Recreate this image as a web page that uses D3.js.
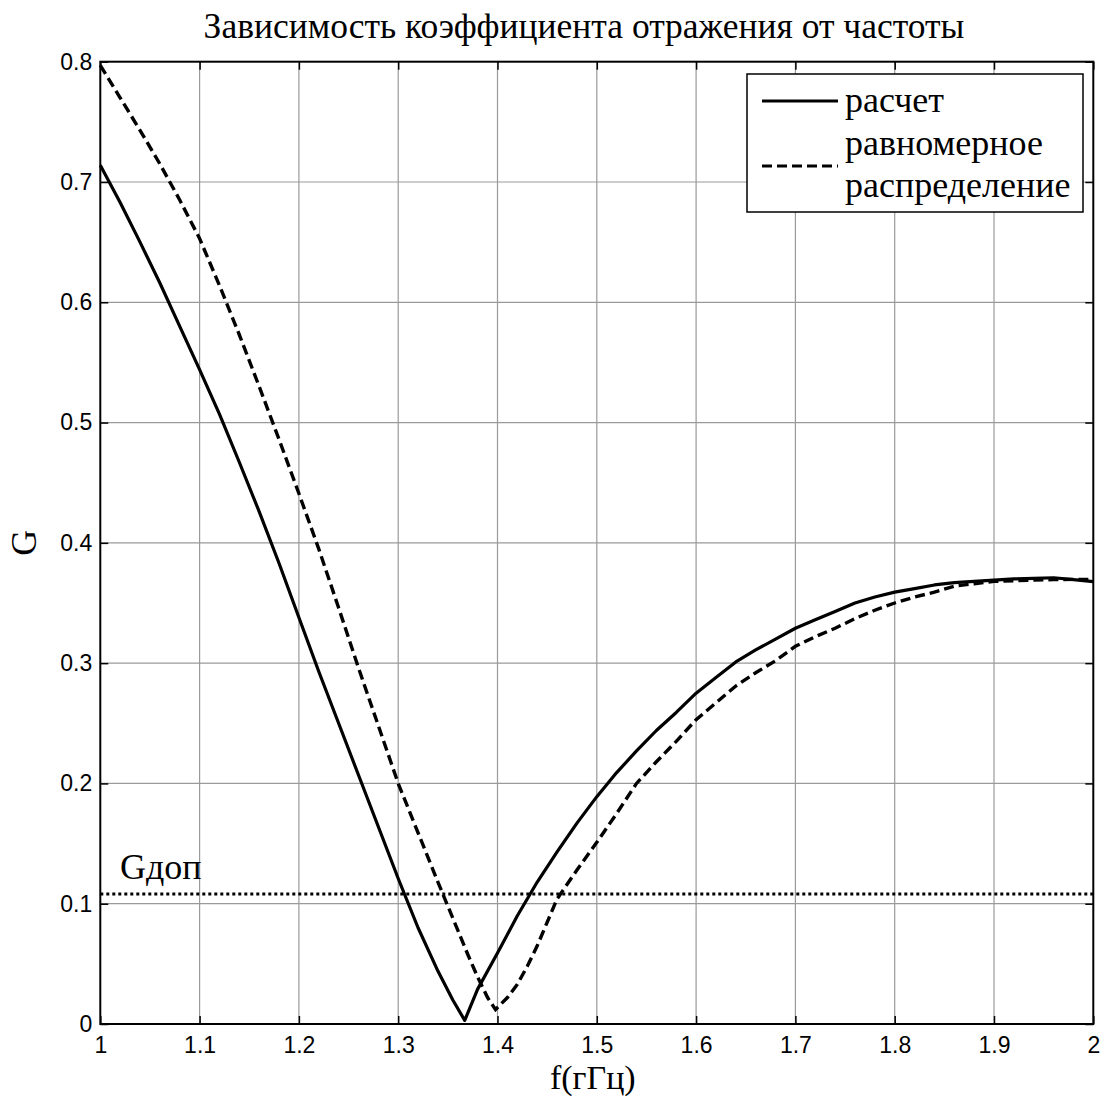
<!DOCTYPE html>
<html>
<head>
<meta charset="utf-8">
<script src="https://cdn.jsdelivr.net/npm/d3@7"></script>
<style>
  html, body { margin: 0; padding: 0; background: #fff; }
  svg { display: block; }
</style>
</head>
<body>
<svg id="chart" width="1105" height="1100"></svg>
<script>
// Reflection coefficient G versus frequency f (GHz)
const calcF = [1.00, 1.02, 1.04, 1.06, 1.08, 1.10, 1.12, 1.14, 1.16, 1.18, 1.20, 1.22, 1.24, 1.26, 1.28, 1.30, 1.32, 1.34, 1.355, 1.367, 1.38, 1.40, 1.42, 1.44, 1.46, 1.48, 1.50, 1.52, 1.54, 1.56, 1.58, 1.60, 1.62, 1.64, 1.66, 1.68, 1.70, 1.72, 1.74, 1.76, 1.78, 1.80, 1.82, 1.84, 1.86, 1.88, 1.90, 1.92, 1.94, 1.96, 1.98, 2.00];
const calcG = [0.714, 0.683, 0.650, 0.616, 0.580, 0.544, 0.507, 0.467, 0.426, 0.383, 0.338, 0.293, 0.250, 0.207, 0.164, 0.121, 0.080, 0.044, 0.020, 0.003, 0.029, 0.059, 0.090, 0.118, 0.143, 0.167, 0.189, 0.209, 0.227, 0.244, 0.259, 0.275, 0.288, 0.301, 0.311, 0.320, 0.329, 0.336, 0.343, 0.350, 0.355, 0.359, 0.362, 0.365, 0.367, 0.368, 0.369, 0.370, 0.3705, 0.371, 0.3695, 0.3677];

const uniF = [1.00, 1.02, 1.04, 1.06, 1.08, 1.10, 1.12, 1.14, 1.16, 1.18, 1.20, 1.22, 1.24, 1.26, 1.28, 1.30, 1.32, 1.34, 1.36, 1.37, 1.38, 1.39, 1.398, 1.41, 1.42, 1.43, 1.44, 1.46, 1.48, 1.50, 1.52, 1.54, 1.56, 1.58, 1.60, 1.62, 1.64, 1.66, 1.68, 1.70, 1.72, 1.74, 1.76, 1.78, 1.80, 1.82, 1.84, 1.86, 1.88, 1.90, 1.92, 1.94, 1.96, 1.98, 2.00];
const uniG = [0.797, 0.770, 0.743, 0.715, 0.685, 0.653, 0.614, 0.573, 0.530, 0.486, 0.441, 0.395, 0.346, 0.296, 0.248, 0.200, 0.159, 0.118, 0.078, 0.058, 0.039, 0.022, 0.012, 0.022, 0.033, 0.048, 0.065, 0.104, 0.128, 0.151, 0.175, 0.200, 0.218, 0.235, 0.253, 0.267, 0.281, 0.292, 0.302, 0.314, 0.322, 0.329, 0.337, 0.344, 0.350, 0.355, 0.359, 0.364, 0.366, 0.368, 0.3685, 0.369, 0.3695, 0.3696, 0.3696];

const gAllowed = 0.108;

const xTicks = [1, 1.1, 1.2, 1.3, 1.4, 1.5, 1.6, 1.7, 1.8, 1.9, 2];
const yTicks = [0, 0.1, 0.2, 0.3, 0.4, 0.5, 0.6, 0.7, 0.8];

const titleText = "Зависимость коэффициента отражения от частоты";
const xLabel = "f(гГц)";
const yLabel = "G";
const gLabel = "Gдоп";
const legendItems = [
  { lines: ["расчет"], dash: null },
  { lines: ["равномерное", "распределение"], dash: "10,5" }
];

const plot = { left: 100.3, right: 1093.3, top: 61.7, bottom: 1024 };
const serif = "'Liberation Serif', 'Times New Roman', serif";
const sans = "'Liberation Sans', Arial, sans-serif";

const svg = d3.select("#chart");
const x = d3.scaleLinear().domain([1, 2]).range([plot.left, plot.right]);
const y = d3.scaleLinear().domain([0, 0.8]).range([plot.bottom, plot.top]);

// grid
const grid = svg.append("g").attr("stroke", "#9a9a9a").attr("stroke-width", 1.2);
grid.selectAll("line.gx").data(xTicks.slice(1, -1)).join("line")
  .attr("x1", d => x(d)).attr("x2", d => x(d))
  .attr("y1", plot.top).attr("y2", plot.bottom);
grid.selectAll("line.gy").data(yTicks.slice(1, -1)).join("line")
  .attr("x1", plot.left).attr("x2", plot.right)
  .attr("y1", d => y(d)).attr("y2", d => y(d));

// axes with inward ticks on all four sides
const tickLen = 8;
const axB = svg.append("g").attr("transform", `translate(0,${plot.bottom})`)
  .call(d3.axisBottom(x).tickValues(xTicks).tickSizeInner(-tickLen).tickSizeOuter(0).tickPadding(13).tickFormat(d3.format("")));
const axT = svg.append("g").attr("transform", `translate(0,${plot.top})`)
  .call(d3.axisTop(x).tickValues(xTicks).tickSizeInner(-tickLen).tickSizeOuter(0).tickFormat(""));
const axL = svg.append("g").attr("transform", `translate(${plot.left},0)`)
  .call(d3.axisLeft(y).tickValues(yTicks).tickSizeInner(-tickLen).tickSizeOuter(0).tickPadding(8).tickFormat(d3.format("")));
const axR = svg.append("g").attr("transform", `translate(${plot.right},0)`)
  .call(d3.axisRight(y).tickValues(yTicks).tickSizeInner(-tickLen).tickSizeOuter(0).tickFormat(""));
[axB, axT, axL, axR].forEach(a => {
  a.select(".domain").remove();
  a.selectAll(".tick line").attr("stroke", "#000").attr("stroke-width", 1.5);
  a.selectAll("text").attr("font-family", sans).attr("font-size", 23).attr("fill", "#000");
});

// curves
const line = d3.line().x(d => x(d[0])).y(d => y(d[1]));
const calcPts = calcF.map((f, i) => [f, calcG[i]]);
const uniPts = uniF.map((f, i) => [f, uniG[i]]);
svg.append("path").datum(calcPts).attr("d", line)
  .attr("fill", "none").attr("stroke", "#000").attr("stroke-width", 3.2).attr("stroke-linejoin", "round");
svg.append("path").datum(uniPts).attr("d", line)
  .attr("fill", "none").attr("stroke", "#000").attr("stroke-width", 3.4).attr("stroke-dasharray", "10,5");

// allowed level
svg.append("line")
  .attr("x1", plot.left).attr("x2", plot.right)
  .attr("y1", y(gAllowed)).attr("y2", y(gAllowed))
  .attr("stroke", "#000").attr("stroke-width", 3).attr("stroke-dasharray", "3,3");
svg.append("text").attr("x", 120).attr("y", y(gAllowed) - 15)
  .attr("font-family", serif).attr("font-size", 36).text(gLabel);

// frame
svg.append("rect")
  .attr("x", plot.left).attr("y", plot.top)
  .attr("width", plot.right - plot.left).attr("height", plot.bottom - plot.top)
  .attr("fill", "none").attr("stroke", "#000").attr("stroke-width", 2);

// legend
const lg = svg.append("g");
lg.append("rect").attr("x", 747).attr("y", 74).attr("width", 336).attr("height", 138)
  .attr("fill", "#fff").attr("stroke", "#000").attr("stroke-width", 1.5);
const lineY = [101, 166];
const textY = [[112], [155, 197]];
legendItems.forEach((it, i) => {
  lg.append("line").attr("x1", 762).attr("x2", 838).attr("y1", lineY[i]).attr("y2", lineY[i])
    .attr("stroke", "#000").attr("stroke-width", 3.2)
    .attr("stroke-dasharray", it.dash);
  it.lines.forEach((t, j) => {
    lg.append("text").attr("x", 845).attr("y", textY[i][j])
      .attr("font-family", serif).attr("font-size", 36).text(t);
  });
});

// title and axis labels
svg.append("text").attr("x", 584).attr("y", 38)
  .attr("text-anchor", "middle").attr("font-family", serif).attr("font-size", 35.5).text(titleText);
svg.append("text").attr("x", (plot.left + plot.right) / 2 - 4).attr("y", 1089)
  .attr("text-anchor", "middle").attr("font-family", serif).attr("font-size", 34).text(xLabel);
svg.append("text").attr("transform", `translate(36,${(plot.top + plot.bottom) / 2}) rotate(-90)`)
  .attr("text-anchor", "middle").attr("font-family", serif).attr("font-size", 36).text(yLabel);
</script>
</body>
</html>
